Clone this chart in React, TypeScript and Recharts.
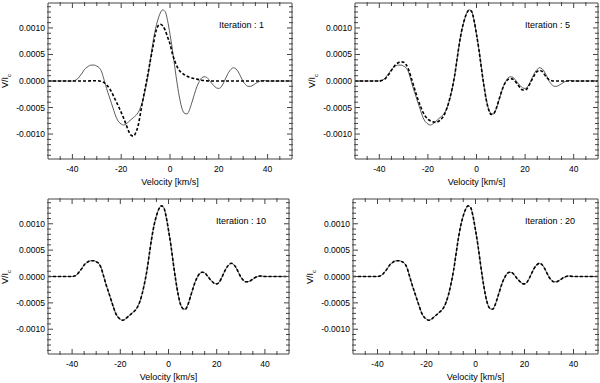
import React from "react";
import { LineChart, Line, XAxis, YAxis } from "recharts";

// velocity grid [km/s]
const velocity = [
  -50, -49, -48, -47, -46, -45, -44, -43, -42, -41,
  -40, -39, -38, -37, -36, -35, -34, -33, -32, -31,
  -30, -29, -28, -27, -26, -25, -24, -23, -22, -21,
  -20, -19, -18, -17, -16, -15, -14, -13, -12, -11,
  -10, -9, -8, -7, -6, -5, -4, -3, -2, -1,
  0, 1, 2, 3, 4, 5, 6, 7, 8, 9,
  10, 11, 12, 13, 14, 15, 16, 17, 18, 19,
  20, 21, 22, 23, 24, 25, 26, 27, 28, 29,
  30, 31, 32, 33, 34, 35, 36, 37, 38, 39,
  40, 41, 42, 43, 44, 45, 46, 47, 48, 49,
  50,
];

// V/Ic in units of 1e-4
const observed = [
  0, 0, 0, 0, 0, 0, 0, 0, 0, 0,
  0, 0.1, 0.35, 0.9, 1.5, 2.2, 2.6, 2.9, 3.0, 3.0,
  2.8, 2.5, 1.7, 0.2, -1.4, -2.8, -4.2, -5.6, -6.9, -7.7,
  -8.1, -8.3, -8.1, -7.7, -7.3, -6.9, -6.5, -5.9, -4.9, -3.4,
  -1.4, 1.0, 4.1, 7.2, 9.7, 11.5, 12.8, 13.4, 13.1, 11.4,
  8.8, 5.9, 2.5, -0.7, -3.4, -5.3, -6.1, -6.2, -5.4, -4.0,
  -2.5, -1.1, -0.1, 0.6, 0.8, 0.7, 0.2, -0.4, -0.9, -1.3,
  -1.4, -1.1, -0.3, 0.7, 1.6, 2.2, 2.5, 2.3, 1.7, 0.8,
  -0.1, -0.7, -1.0, -1.0, -0.8, -0.5, -0.2, 0, 0.1, 0.05,
  0, 0, 0, 0, 0, 0, 0, 0, 0, 0,
  0,
];

const modelIter1 = [
  0, 0, 0, 0, 0, 0, 0, 0, 0, 0,
  0, 0, 0, 0, 0, 0, 0, 0.02, 0.04, 0.05,
  0.05, 0, -0.1, -0.3, -0.7, -1.3, -2.0, -3.0, -3.9, -4.9,
  -5.9, -7.0, -8.2, -9.4, -10.2, -10.4, -9.7, -8.3, -5.8, -3.3,
  -0.9, 1.5, 4.0, 6.4, 8.9, 10.3, 10.7, 10.4, 9.6, 8.3,
  7.0, 5.1, 3.7, 2.6, 1.9, 1.5, 1.15, 0.9, 0.7, 0.55,
  0.45, 0.35, 0.25, 0.15, 0.08, 0.03, 0, 0, 0, 0,
  0, 0, 0, 0, 0, 0, 0, 0, 0, 0,
  0, 0, 0, 0, 0, 0, 0, 0, 0, 0,
  0, 0, 0, 0, 0, 0, 0, 0, 0, 0,
  0,
];

const modelIter5 = [
  0, 0, 0, 0, 0, 0, 0, 0, 0, 0,
  0, 0.1, 0.25, 0.7, 1.3, 2.0, 2.7, 3.2, 3.5, 3.6,
  3.55, 3.1, 2.2, 0.8, -0.7, -2.2, -3.6, -4.8, -5.9, -6.7,
  -7.2, -7.5, -7.7, -7.8, -7.7, -7.4, -6.9, -6.1, -4.9, -3.3,
  -1.4, 1.0, 4.1, 7.2, 9.7, 11.5, 12.8, 13.4, 13.1, 11.4,
  8.8, 5.9, 2.5, -0.7, -3.5, -5.4, -6.3, -6.2, -5.3, -3.9,
  -2.4, -1.1, -0.2, 0.3, 0.45, 0.35, -0.1, -0.7, -1.3, -1.7,
  -1.7, -1.3, -0.5, 0.4, 1.2, 1.8, 2.0, 1.8, 1.2, 0.6,
  0.2, 0.05, 0, 0, 0, 0, 0, 0, 0, 0,
  0, 0, 0, 0, 0, 0, 0, 0, 0, 0,
  0,
];

const modelIter10 = [
  0, 0, 0, 0, 0, 0, 0, 0, 0, 0,
  0, 0.1, 0.35, 0.9, 1.5, 2.2, 2.6, 2.9, 3.0, 3.0,
  2.8, 2.5, 1.7, 0.2, -1.4, -2.8, -4.2, -5.6, -6.9, -7.7,
  -8.1, -8.3, -8.1, -7.7, -7.3, -6.9, -6.5, -5.9, -4.9, -3.4,
  -1.4, 1.0, 4.1, 7.2, 9.7, 11.5, 12.8, 13.4, 13.1, 11.4,
  8.8, 5.9, 2.5, -0.7, -3.4, -5.3, -6.1, -6.2, -5.4, -4.0,
  -2.5, -1.1, -0.1, 0.6, 0.8, 0.7, 0.2, -0.4, -0.9, -1.3,
  -1.4, -1.1, -0.3, 0.7, 1.6, 2.2, 2.5, 2.3, 1.7, 0.8,
  -0.1, -0.7, -1.0, -1.0, -0.8, -0.5, -0.2, 0, 0.1, 0.05,
  0, 0, 0, 0, 0, 0, 0, 0, 0, 0,
  0,
];

const modelIter20 = [
  0, 0, 0, 0, 0, 0, 0, 0, 0, 0,
  0, 0.1, 0.35, 0.9, 1.5, 2.2, 2.6, 2.9, 3.0, 3.0,
  2.8, 2.5, 1.7, 0.2, -1.4, -2.8, -4.2, -5.6, -6.9, -7.7,
  -8.1, -8.3, -8.1, -7.7, -7.3, -6.9, -6.5, -5.9, -4.9, -3.4,
  -1.4, 1.0, 4.1, 7.2, 9.7, 11.5, 12.8, 13.4, 13.1, 11.4,
  8.8, 5.9, 2.5, -0.7, -3.4, -5.3, -6.1, -6.2, -5.4, -4.0,
  -2.5, -1.1, -0.1, 0.6, 0.8, 0.7, 0.2, -0.4, -0.9, -1.3,
  -1.4, -1.1, -0.3, 0.7, 1.6, 2.2, 2.5, 2.3, 1.7, 0.8,
  -0.1, -0.7, -1.0, -1.0, -0.8, -0.5, -0.2, 0, 0.1, 0.05,
  0, 0, 0, 0, 0, 0, 0, 0, 0, 0,
  0,
];

const xMajorTicks = [-40, -20, 0, 20, 40];
const xMinorTicks = [-45, -35, -30, -25, -15, -10, -5, 5, 10, 15, 25, 30, 35, 45];
const yMajorTicks = [-10, -5, 0, 5, 10];
const yMinorTicks = [-14, -13, -12, -11, -9, -8, -7, -6, -4, -3, -2, -1, 1, 2, 3, 4, 6, 7, 8, 9, 11, 12, 13, 14];

const FONT = "'Liberation Sans', Arial, Helvetica, sans-serif";
const FRAME = "#444";
// outer space around each plot box; two 1px axes sit on every side
const OUT = { top: 3, right: 4, bottom: 32, left: 48 };
const M = { top: OUT.top - 2, right: OUT.right - 2, bottom: OUT.bottom - 2, left: OUT.left - 2 };

const panels = [
  { label: "Iteration : 1", model: modelIter1, left: 48, top: 3, width: 244, height: 156 },
  { label: "Iteration : 5", model: modelIter5, left: 355, top: 3, width: 243, height: 156 },
  { label: "Iteration : 10", model: modelIter10, left: 48, top: 199, width: 241, height: 155 },
  { label: "Iteration : 20", model: modelIter20, left: 353, top: 199, width: 245, height: 155 },
];

function Panel({ label, model, left, top, width, height }: any) {
  const data = velocity.map((v, i) => ({ v, obs: observed[i], model: model[i] }));
  const w = width + OUT.left + OUT.right;
  const h = height + OUT.top + OUT.bottom;
  const xProps = { type: "number" as const, dataKey: "v", domain: [-50, 50], allowDataOverflow: true, height: 1, interval: 0 as const };
  const yProps = { type: "number" as const, domain: [-14.7, 14.7], allowDataOverflow: true, width: 1, interval: 0 as const };
  const line = { stroke: FRAME, strokeWidth: 1 };
  const tickFont = { fontSize: 8.5, fill: "#000", fontFamily: FONT };

  return (
    <div style={{ position: "absolute", left: left - OUT.left, top: top - OUT.top, width: w, height: h, fontFamily: FONT }}>
      <LineChart width={w} height={h} data={data} margin={M}>
        <XAxis xAxisId="b" orientation="bottom" {...xProps} ticks={xMajorTicks} tickSize={-5} tickMargin={12}
          axisLine={line} tickLine={line} tick={tickFont} />
        <XAxis xAxisId="bm" orientation="bottom" {...xProps} ticks={xMinorTicks} tickSize={-4}
          axisLine={false} tickLine={line} tickFormatter={() => ""} />
        <XAxis xAxisId="t" orientation="top" {...xProps} ticks={xMajorTicks} tickSize={-5}
          axisLine={line} tickLine={line} tickFormatter={() => ""} />
        <XAxis xAxisId="tm" orientation="top" {...xProps} ticks={xMinorTicks} tickSize={-4}
          axisLine={false} tickLine={line} tickFormatter={() => ""} />
        <YAxis yAxisId="l" orientation="left" {...yProps} ticks={yMajorTicks} tickSize={-5} tickMargin={8}
          axisLine={line} tickLine={line} tick={tickFont}
          tickFormatter={(val: number) => (val / 10000).toFixed(4)} />
        <YAxis yAxisId="lm" orientation="left" {...yProps} ticks={yMinorTicks} tickSize={-4}
          axisLine={false} tickLine={line} tickFormatter={() => ""} />
        <YAxis yAxisId="r" orientation="right" {...yProps} ticks={yMajorTicks} tickSize={-5}
          axisLine={line} tickLine={line} tickFormatter={() => ""} />
        <YAxis yAxisId="rm" orientation="right" {...yProps} ticks={yMinorTicks} tickSize={-4}
          axisLine={false} tickLine={line} tickFormatter={() => ""} />
        <Line xAxisId="b" yAxisId="l" type="monotone" dataKey="obs" stroke="#333" strokeWidth={0.8}
          dot={false} isAnimationActive={false} />
        <Line xAxisId="b" yAxisId="l" type="monotone" dataKey="model" stroke="#000" strokeWidth={1.6}
          strokeDasharray="3 2" dot={false} isAnimationActive={false} />
      </LineChart>
      <div style={{ position: "absolute", left: OUT.left + width - 73, top: OUT.top + 16, fontSize: 9, lineHeight: "12px", whiteSpace: "nowrap" }}>
        {label}
      </div>
      <div style={{ position: "absolute", left: OUT.left + width / 2, top: OUT.top + height + 23, transform: "translate(-50%, -50%)", fontSize: 9, whiteSpace: "nowrap" }}>
        Velocity [km/s]
      </div>
      <div style={{ position: "absolute", left: 6, top: OUT.top + height / 2, transform: "translate(-50%, -50%) rotate(-90deg)", fontSize: 9, whiteSpace: "nowrap" }}>
        V/I<sub style={{ fontSize: 6 }}>c</sub>
      </div>
    </div>
  );
}

export default function App() {
  return (
    <div style={{ position: "absolute", left: 0, top: 0, width: 600, height: 383, background: "#fff" }}>
      {panels.map((p) => (
        <Panel key={p.label} {...p} />
      ))}
    </div>
  );
}
